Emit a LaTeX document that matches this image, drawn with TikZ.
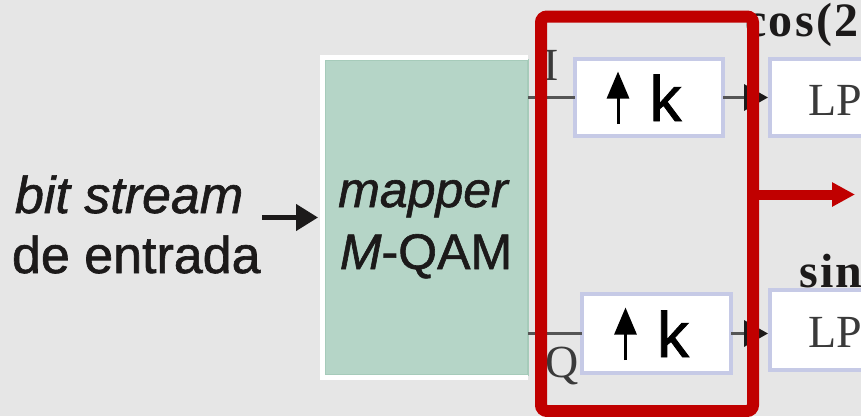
\documentclass[tikz,border=0pt]{standalone}
\usepackage{fontspec}
\setmainfont{Liberation Sans}
\newfontfamily\heavysans[FakeBold=1.2]{Liberation Sans}
\newfontfamily\seriffont{Liberation Serif}
\newfontfamily\opserif[LetterSpace=5]{Liberation Serif}
\usetikzlibrary{arrows.meta,calc}

\definecolor{bg}{HTML}{E6E6E6}
\definecolor{mapgreen}{HTML}{B5D5C7}
\definecolor{mapedge}{HTML}{A6CBBA}
\definecolor{boxedge}{HTML}{C6CAE6}
\definecolor{wiregray}{HTML}{555555}
\definecolor{redframe}{HTML}{C00000}
\definecolor{ink}{HTML}{1C1A1A}
\definecolor{lpink}{HTML}{3A3A3A}

\begin{document}
\begin{tikzpicture}[x=1pt,y=-1pt,
  every node/.style={inner sep=0pt, outer sep=0pt},
  txt/.style={font=\heavysans\fontsize{52}{60}\selectfont, text=ink},
  itxt/.style={font=\heavysans\fontsize{52}{60}\selectfont\itshape, text=ink},
  maptxt/.style={font=\heavysans\fontsize{50}{60}\selectfont, text=ink},
  mapitxt/.style={font=\heavysans\fontsize{50}{60}\selectfont\itshape, text=ink},
  lpfont/.style={font=\seriffont\fontsize{46}{50}\selectfont, text=lpink},
  iqfont/.style={font=\seriffont\fontsize{46}{50}\selectfont, text=lpink},
  opfont/.style={font=\opserif\bfseries\fontsize{48}{50}\selectfont, text=ink},
  mapbox/.style={rectangle, fill=mapgreen, draw=mapedge, line width=1.5pt},
  mapframe/.style={draw=white, line width=5pt},
  upbox/.style={rectangle, fill=white, draw=boxedge, line width=4pt},
  wire/.style={draw=wiregray, line width=3.5pt},
  outwire/.style={wire, shorten >=2pt, -{Triangle[length=24pt,width=26pt,color=ink]}},
  inarrow/.style={draw=ink, line width=4.5pt, -{Triangle[length=22pt,width=26pt]}},
  redbox/.style={rectangle, draw=redframe, line width=12pt, rounded corners=6pt},
  redarrow/.style={draw=redframe, line width=10pt, -{Triangle[length=23pt,width=23pt]}},
  upk/.pic={
    \draw[draw=black, line width=3pt, -{Triangle[length=27pt,width=22pt]}] (-31,26.5) -- (-31,-26);
    \node[anchor=base, font=\heavysans\fontsize{64}{70}\selectfont, text=black] (-k) at (16.5,23.5) {k};
  }]

\useasboundingbox (0,0) rectangle (861,416);
\clip (0,0) rectangle (861,416);
\fill[bg] (0,0) rectangle (861,416);

% input label
\node[itxt, anchor=base west] (bs1) at (15,213) {bit stream};
\node[txt, anchor=base west] (bs2) at (12,273) {de entrada};

% mapper block
\node[mapbox, minimum width=203pt, minimum height=315pt] (map) at (426.5,217.5) {};
\draw[mapframe] ([yshift=2.5pt]map.north east) -| ([xshift=-2.5pt,yshift=-2.5pt]map.south west) -- ([yshift=-2.5pt]map.south east);
\node[mapitxt, anchor=base] (maptop) at (423,207) {mapper};
\node[maptxt, anchor=base] (mapbot) at (426,269) {\textit{M}-QAM};

\coordinate (in) at (262,217.5);
\coordinate (mapin) at ([xshift=-7pt]map.west);
\draw[inarrow] (in) -- (mapin);

% upsampler blocks
\node[upbox, minimum width=148pt, minimum height=77pt] (Ibox) at (649,97.5) {};
\node[upbox, minimum width=149pt, minimum height=79pt] (Qbox) at (656.5,333.5) {};
\pic (Iup) at (Ibox.center) {upk};
\pic (Qup) at (Qbox.center) {upk};

% low-pass filters
\node[upbox, minimum width=180pt, minimum height=77pt] (LP1) at (860,97.5) {};
\node[upbox, minimum width=180pt, minimum height=80pt] (LP2) at (860,330) {};
\node[lpfont, anchor=base west] (lp1txt) at (808,115) {LP};
\node[lpfont, anchor=base west] (lp2txt) at (808,347) {LP};

% carrier labels
\node[opfont, anchor=base west] (costxt) at (745,36) {cos(2};
\node[opfont, anchor=base west] (sintxt) at (799,287) {sin};

% branch labels
\node[iqfont, anchor=base] (ilbl) at (551,80) {I};
\node[iqfont, anchor=base] (qlbl) at (562,377) {Q};

% connections
\draw[wire] (map.east |- Ibox.west) -- (Ibox.west);
\draw[wire] (map.east |- Qbox.west) -- (Qbox.west);
\draw[outwire] (Ibox.east) -- (LP1.west |- Ibox.east);
\draw[outwire] (Qbox.east) -- (LP2.west |- Qbox.east);

% highlight frame around the upsamplers
\node[redbox, minimum width=212pt, minimum height=394.5pt] (frame) at (647,213.75) {};
\coordinate (redtip) at (855,194.5);
\draw[redarrow] (frame.east |- redtip) -- (redtip);
\end{tikzpicture}
\end{document}
